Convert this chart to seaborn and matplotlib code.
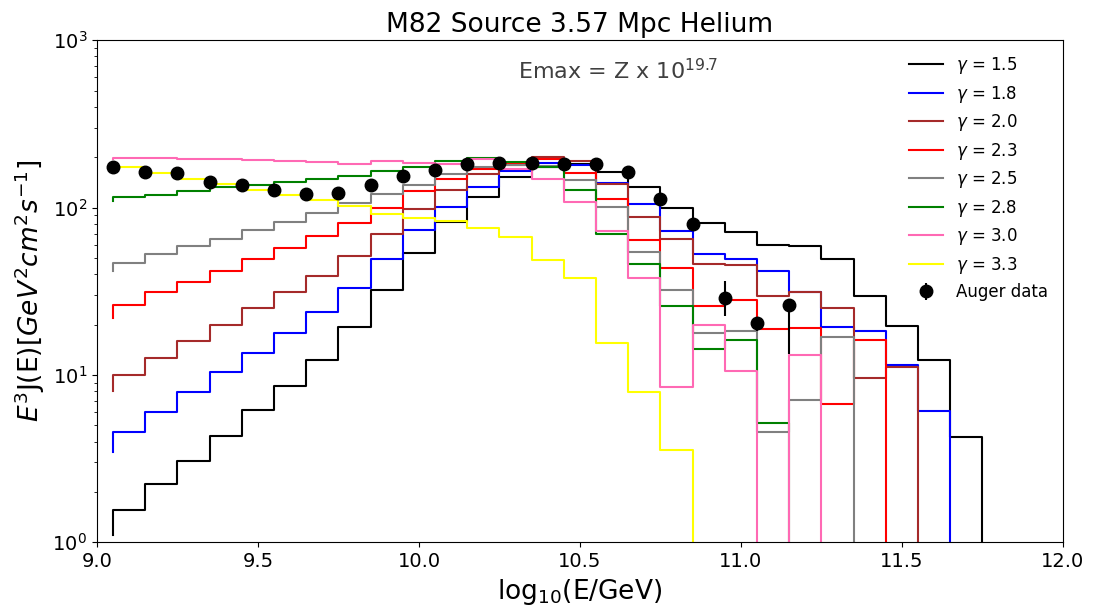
import numpy as np
import pandas as pd
import matplotlib
matplotlib.use("Agg")
import matplotlib.pyplot as plt
import seaborn as sns

# ---------------- data ----------------
log_e = [9.05, 9.15, 9.25, 9.35, 9.45, 9.55, 9.65, 9.75, 9.85, 9.95,
         10.05, 10.15, 10.25, 10.35, 10.45, 10.55, 10.65, 10.75, 10.85, 10.95,
         11.05, 11.15, 11.25, 11.35, 11.45, 11.55, 11.65, 11.75, 11.85]

g15 = [1.1, 1.56, 2.23, 3.07, 4.34, 6.17, 8.6, 12.3, 19.4, 32.4,
       53.4, 82.5, 115, 152, 175, 182, 163, 132, 100, 81.3,
       71.9, 59.6, 59.1, 49.2, 29.7, 19.7, 12.3, 4.28, 0]
g18 = [3.45, 4.58, 6.03, 7.86, 10.4, 13.6, 17.9, 23.8, 33.3, 49.6,
       73.6, 101, 132, 166, 184, 179, 141, 105, 72.6, 52.7,
       49.2, 41.9, 31.4, 19.4, 18.4, 11.5, 6.11, 0, 0]
g20 = [8.05, 9.98, 12.7, 15.9, 19.9, 25.0, 31.4, 39.1, 51.5, 69.4,
       98.0, 128, 158, 180, 202, 190, 138, 87.5, 65.3, 46.3,
       45.3, 29.7, 31.1, 25.1, 9.53, 11.2, 0, 0, 0]
g23 = [22.0, 26.2, 31.1, 36.0, 41.9, 49.6, 57.4, 67.8, 81.3, 100,
       126, 148, 170, 185, 196, 161, 112, 63.9, 43.3, 25.9,
       28.0, 18.9, 19.1, 6.7, 16.2, 0, 0, 0, 0]
g25 = [41.8, 46.8, 52.7, 58.9, 65.3, 73.3, 82.4, 92.5, 106, 120,
       137, 158, 176, 180, 178, 147, 101, 54.4, 32.3, 17.9,
       18.4, 4.53, 7.08, 16.9, 0, 0, 0, 0, 0]
g28 = [109, 115, 118.6, 126, 132, 137, 143, 148, 155, 166,
       174, 190, 199, 188, 174, 127, 69.4, 46.3, 25.9, 14.3,
       16.1, 5.13, 0, 0, 0, 0, 0, 0, 0]
g30 = [195, 197, 197, 195, 194, 193, 190, 188, 183, 190,
       186, 183, 194, 171, 148, 108, 72.6, 37.8, 8.43, 19.9,
       10.6, 0, 13.1, 0, 0, 0, 0, 0, 0]
g33 = [170, 175, 160, 149, 139, 128, 119, 111, 102, 91.4,
       87.1, 83.2, 75.5, 66.8, 48.5, 38.2, 15.6, 7.86, 3.56, 0,
       0, 0, 0, 0, 0, 0, 0, 0, 0]

gamma_labels = ["1.5", "1.8", "2.0", "2.3", "2.5", "2.8", "3.0", "3.3"]
gamma_series = [g15, g18, g20, g23, g25, g28, g30, g33]
gamma_colors = ["black", "blue", "brown", "red", "gray", "green", "hotpink", "yellow"]

auger_x = [9.05, 9.15, 9.25, 9.35, 9.45, 9.55, 9.65, 9.75, 9.85, 9.95, 10.05,
           10.15, 10.25, 10.35, 10.45, 10.55, 10.65, 10.75, 10.85, 10.95, 11.05, 11.15]
auger_y = [175, 163, 160, 143, 136, 128, 121, 123, 137, 155, 168,
           182, 184, 186, 182, 182, 163, 113, 80.3, 29.0, 20.3, 26.1]
auger_err_lo = [2, 2, 2, 2, 2, 2, 2, 2, 2, 2, 2,
                3, 3, 3, 3, 4, 4, 4, 4, 6.5, 2, 12.8]
auger_err_hi = [2, 2, 2, 2, 2, 2, 2, 2, 2, 2, 2,
                3, 3, 3, 3, 4, 4, 4, 4, 7.2, 2, 2]

# ---------------- plot ----------------
fig, ax = plt.subplots(figsize=(10.97, 6.10), dpi=100)
fig.subplots_adjust(left=0.0884, right=0.969, top=0.934, bottom=0.111)

for lab, vals, col in zip(gamma_labels, gamma_series, gamma_colors):
    df = pd.DataFrame({"logE": log_e, "flux": vals})
    sns.lineplot(data=df, x="logE", y="flux", ax=ax, color=col,
                 drawstyle="steps-pre", linewidth=1.5, estimator=None,
                 errorbar=None, label=r"$\gamma$ = " + lab)

ax.errorbar(auger_x, auger_y, yerr=[auger_err_lo, auger_err_hi], fmt="o",
            color="black", markersize=9, elinewidth=1.5, label="Auger data",
            zorder=5)

ax.set_yscale("log")
ax.set_xlim(9.0, 12.0)
ax.set_ylim(1, 1000)
ax.set_xticks([9.0, 9.5, 10.0, 10.5, 11.0, 11.5, 12.0])
ax.tick_params(axis="both", which="major", labelsize=14)

ax.set_title("M82 Source 3.57 Mpc Helium", fontsize=19)
ax.set_xlabel(r"log$_{10}$(E/GeV)", fontsize=19)
ax.set_ylabel(r"$E^3$J(E)$[GeV^2cm^2s^{-1}]$", fontsize=19)

ax.text(10.62, 660, r"Emax = Z x 10$^{19.7}$", fontsize=16, color="#404040",
        ha="center", va="center")

ax.legend(loc="upper right", frameon=False, fontsize=12, labelspacing=0.45)

fig.savefig("out.png", dpi=100)
